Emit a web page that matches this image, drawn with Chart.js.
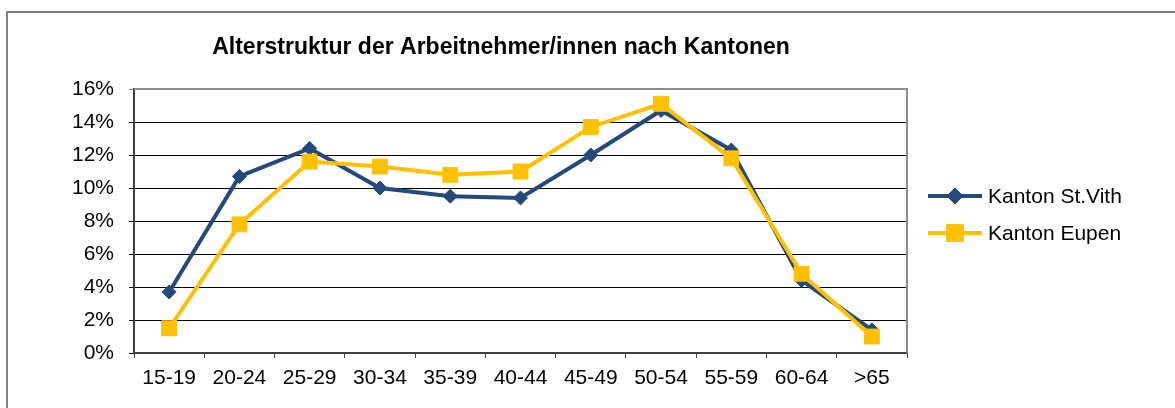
<!DOCTYPE html>
<html>
<head>
<meta charset="utf-8">
<script src="https://cdn.jsdelivr.net/npm/chart.js@4"></script>
<style>
    html, body { margin: 0; padding: 0; background: #fff; }
    #wrap { position: relative; width: 1175px; height: 408px; overflow: hidden; }
    #frame {
        position: absolute; left: 6px; top: 11px; width: 1200px; height: 420px;
        border-left: 2px solid #7f7f7f; border-top: 2px solid #7f7f7f;
    }
    canvas { position: absolute; left: 0; top: 0; }
</style>
</head>
<body>
<div id="wrap">
    <div id="frame"></div>
    <canvas id="chart" width="1175" height="408"></canvas>
</div>
<script>
// Altersstruktur — values (percent)
const TITLE = "Alterstruktur der Arbeitnehmer/innen nach Kantonen";
const categories = ["15-19", "20-24", "25-29", "30-34", "35-39", "40-44", "45-49", "50-54", "55-59", "60-64", ">65"];
const stVith = [3.7, 10.7, 12.4, 10.0, 9.5, 9.4, 12.0, 14.7, 12.3, 4.4, 1.4];
const eupen = [1.5, 7.8, 11.6, 11.3, 10.8, 11.0, 13.7, 15.1, 11.8, 4.8, 1.0];
const yTicks = [0, 2, 4, 6, 8, 10, 12, 14, 16];

const FONT = "'Liberation Sans', Arial, sans-serif";
const BLUE = "#244a7c";
const YELLOW = "#ffc000";

// title, plot frame and an Excel-like legend (line + marker)
const decor = {
    id: "decor",
    beforeDatasetsDraw(chart) {
        const { ctx, chartArea: a } = chart;
        ctx.save();
        ctx.strokeStyle = "#8c8c8c";
        ctx.lineWidth = 2;
        ctx.beginPath();
        ctx.moveTo(a.left, a.top);
        ctx.lineTo(a.right, a.top);
        ctx.lineTo(a.right, a.bottom);
        ctx.stroke();
        ctx.restore();
    },
    afterDraw(chart) {
        const { ctx } = chart;
        ctx.save();
        ctx.fillStyle = "#000";
        ctx.font = "bold 23px " + FONT;
        ctx.textAlign = "center";
        ctx.textBaseline = "middle";
        ctx.fillText(TITLE, 501, 48);

        const x0 = 928, x1 = 982;
        const markR = [5.5, 9.5];
        chart.data.datasets.forEach((ds, i) => {
            const y = 196 + i * 37;
            ctx.strokeStyle = ds.borderColor;
            ctx.lineWidth = ds.borderWidth;
            ctx.beginPath();
            ctx.moveTo(x0, y);
            ctx.lineTo(x1, y);
            ctx.stroke();
            Chart.helpers.drawPoint(ctx, {
                pointStyle: ds.pointStyle,
                radius: markR[i],
                rotation: 0,
                borderWidth: 1
            }, (x0 + x1) / 2, y);
            ctx.fillStyle = ds.pointBackgroundColor;
            ctx.strokeStyle = ds.pointBorderColor;
            ctx.fill();
            ctx.stroke();
            ctx.fillStyle = "#000";
            ctx.font = "21px " + FONT;
            ctx.textAlign = "left";
            ctx.fillText(ds.label, 988, y + 1);
        });
        ctx.restore();
    }
};

new Chart(document.getElementById("chart"), {
    type: "line",
    data: {
        labels: categories,
        datasets: [
            {
                label: "Kanton St.Vith",
                data: stVith,
                borderColor: BLUE,
                borderWidth: 4,
                pointStyle: "rectRot",
                pointRadius: 7,
                pointBackgroundColor: BLUE,
                pointBorderColor: BLUE,
                pointBorderWidth: 1,
                tension: 0,
                order: 1
            },
            {
                label: "Kanton Eupen",
                data: eupen,
                borderColor: YELLOW,
                borderWidth: 4,
                pointStyle: "rect",
                pointRadius: 10.5,
                pointBackgroundColor: YELLOW,
                pointBorderColor: YELLOW,
                pointBorderWidth: 1,
                tension: 0,
                order: 0
            }
        ]
    },
    options: {
        responsive: false,
        animation: false,
        layout: { padding: { top: 89, right: 268, bottom: 10, left: 0 } },
        plugins: {
            legend: { display: false },
            title: { display: false },
            tooltip: { enabled: false }
        },
        scales: {
            x: {
                offset: true,
                afterFit: s => { s.height = 45; },
                grid: {
                    offset: true,
                    drawOnChartArea: false,
                    drawTicks: true,
                    tickLength: 5,
                    color: "#404040"
                },
                border: { color: "#404040", width: 2 },
                ticks: {
                    color: "#000",
                    padding: 8,
                    font: { family: FONT, size: 21 },
                    maxRotation: 0
                }
            },
            y: {
                min: 0,
                max: 16,
                afterFit: s => { s.width = 134; },
                afterBuildTicks: s => { s.ticks = yTicks.map(v => ({ value: v })); },
                grid: {
                    color: ctx => (ctx.tick && ctx.tick.value === 16 ? "#8c8c8c" : "#000"),
                    lineWidth: 1,
                    tickLength: 5
                },
                border: { color: "#404040", width: 2 },
                ticks: {
                    color: "#000",
                    padding: 15,
                    font: { family: FONT, size: 21 },
                    callback: v => v + "%"
                }
            }
        }
    },
    plugins: [decor]
});
</script>
</body>
</html>
